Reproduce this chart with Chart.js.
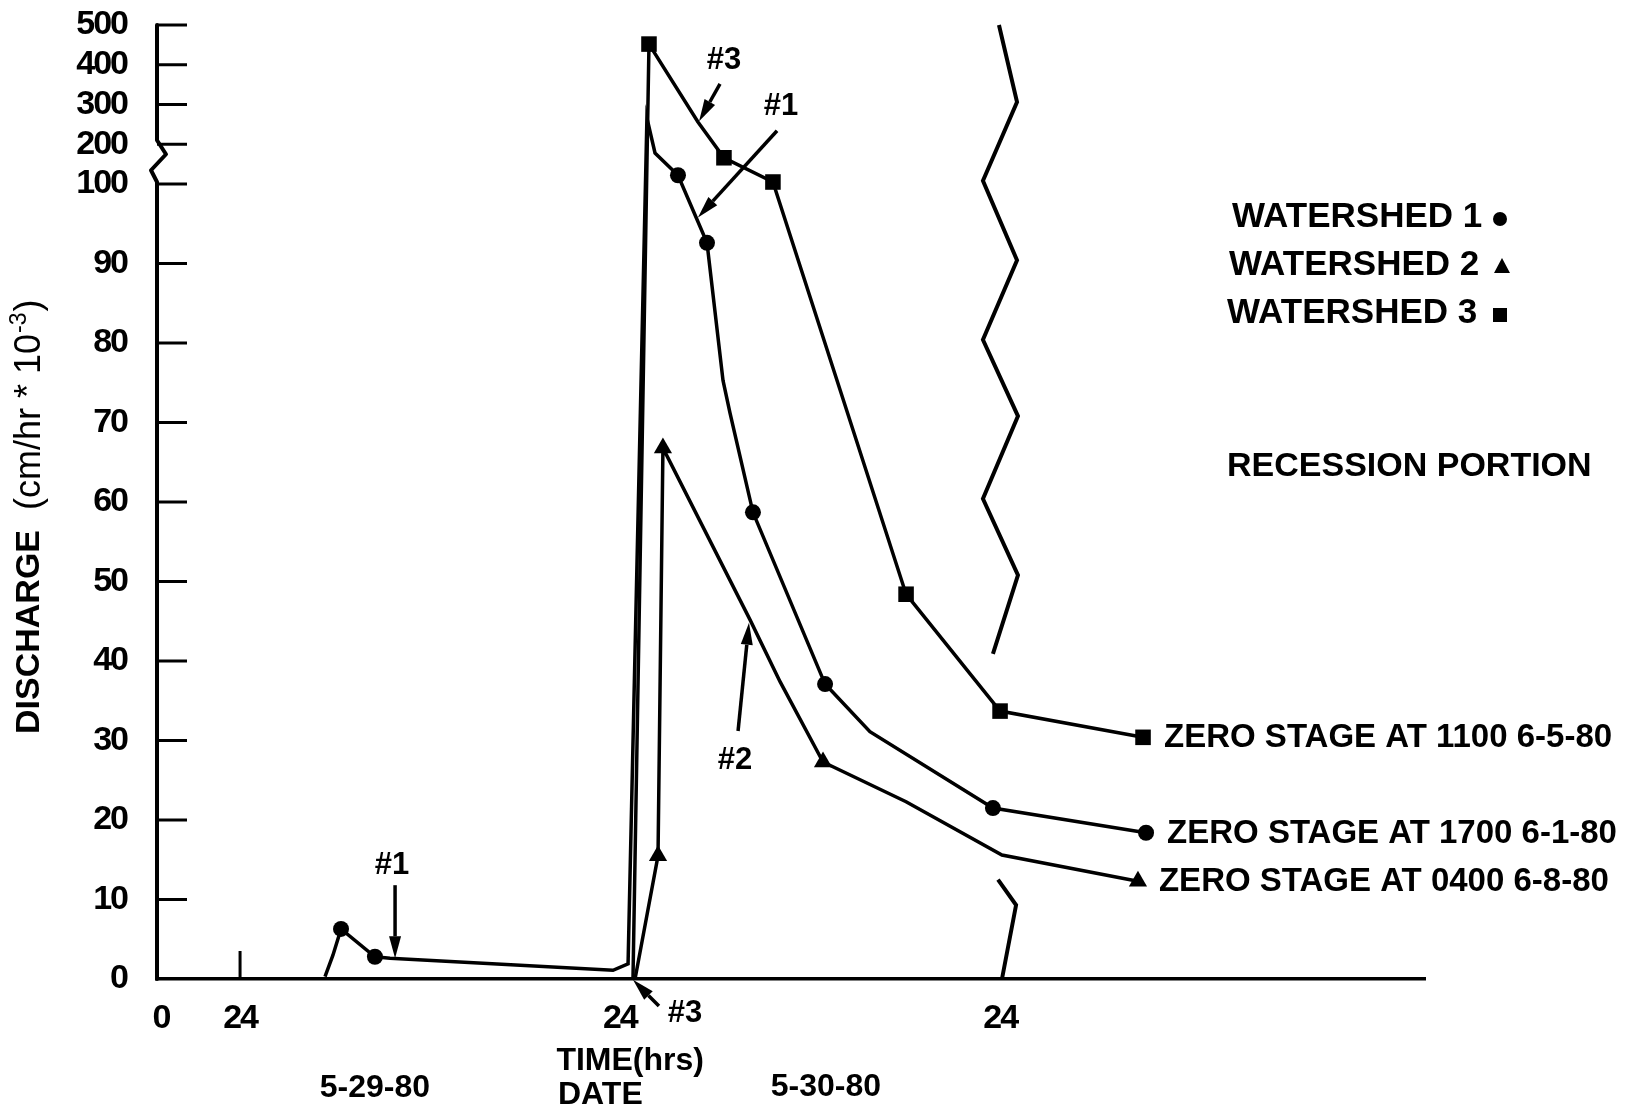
<!DOCTYPE html>
<html>
<head>
<meta charset="utf-8">
<title>Discharge - recession portion</title>
<script src="https://cdn.jsdelivr.net/npm/chart.js@4.4.1/dist/chart.umd.min.js"></script>
<style>
  html, body { margin: 0; padding: 0; background: #fff; }
  #wrap { width: 1633px; height: 1112px; position: relative; }
</style>
</head>
<body>
<div id="wrap"><canvas id="chart"></canvas></div>
<script>
// time in hours from the origin, discharge in cm/hr * 10^-3
const ws1X = [10.6, 11.1, 11.61, 13.75, 14.7, 28.77, 29.72, 30.91, 31.42, 32.87, 34.7, 35.71, 36.15, 37.6, 42.15, 44.98, 52.74, 62.4];
const ws1Y = [0.3, 3.0, 6.3, 2.8, 2.6, 1.1, 1.9, 266, 178, 122, 92.6, 75.3, 71.2, 58.7, 37.1, 31.1, 21.5, 18.4];
const ws1Mark = [0, 0, 1, 1, 0, 0, 0, 0, 0, 1, 1, 0, 0, 1, 1, 0, 1, 1];

const ws2X = [30.16, 31.61, 31.92, 37.41, 39.31, 42.02, 47.26, 53.31, 61.89];
const ws2Y = [0, 15.5, 66.8, 45.2, 37.4, 27.3, 22.3, 15.6, 12.3];
const ws2Mark = [0, 1, 1, 0, 0, 1, 0, 0, 1];

const ws3X = [30.03, 31.04, 34.13, 35.77, 38.86, 47.26, 53.19, 62.21];
const ws3Y = [0, 452, 256, 166, 105, 48.4, 33.7, 30.4];
const ws3Mark = [0, 1, 0, 1, 1, 1, 1, 1];

// break marks across the time axis
const breakTopX = [53.12, 54.26, 52.11, 54.26, 52.11, 54.32, 52.11, 54.32, 52.74];
const breakTopY = [500, 306, 108, 90.4, 80.4, 70.8, 60.4, 50.8, 40.9];
const breakLowX = [53.06, 54.2, 53.31];
const breakLowY = [12.5, 9.3, 0];

const yTickVals = [0, 10, 20, 30, 40, 50, 60, 70, 80, 90, 100, 200, 300, 400, 500];
const yTickText = ['0', '10', '20', '30', '40', '50', '60', '70', '80', '90', '100', '200', '300', '400', '500'];
const xTickVals = [0.25, 5.24, 29.2, 53.2];
const xTickText = ['0', '24', '24', '24'];
const xTickMark = [false, true, false, false];

const seriesNames = ['WATERSHED 1', 'WATERSHED 2', 'WATERSHED 3'];
const zeroStage = ['ZERO STAGE AT 1700 6-1-80', 'ZERO STAGE AT 0400 6-8-80', 'ZERO STAGE AT 1100 6-5-80'];

// callouts: label, label position, arrow tail, arrow head (hours, discharge)
const callouts = [
  ['#3', [35.77, 410], [35.52, 352], [34.20, 258]],
  ['#1', [39.37, 296], [39.12, 234], [34.13, 95.8]],
  ['#2', [36.47, 27.5], [36.66, 31.2], [37.35, 44.8]],
  ['#1', [14.83, 14.3], [15.02, 11.8], [15.02, 2.6]],
  ['#3', [33.31, -4.3], [31.67, -3.4], [30.03, -0.1]]
];

const dateLabels = [
  ['5-29-80', 13.75, 1088, 'center'],
  ['TIME(hrs)', 25.2, 1061, 'left'],
  ['DATE', 25.3, 1095, 'left'],
  ['5-30-80', 42.2, 1087, 'center']
];

// above 100 the axis is squeezed 20:1
const BREAK = 100, SQUEEZE = 20;
const fold = v => v <= BREAK ? v : BREAK + (v - BREAK) / SQUEEZE;

const FONT = "'Liberation Sans', Arial, Helvetica, sans-serif";
const INK = '#000';
const TICK_FONT = { family: FONT, size: 34, weight: 'bold' };

function series(xs, ys, marks, style, r) {
  return {
    data: xs.map((x, i) => ({ x, y: fold(ys[i]) })),
    borderColor: INK,
    backgroundColor: INK,
    borderWidth: 3.5,
    pointStyle: style,
    pointRadius: marks.map(m => m ? r : 0),
    pointBorderWidth: 0,
    tension: 0,
    clip: 6
  };
}
function breakLine(xs, ys) {
  return {
    data: xs.map((x, i) => ({ x, y: fold(ys[i]) })),
    borderColor: INK,
    borderWidth: 4,
    pointRadius: 0,
    tension: 0,
    clip: 6
  };
}

function arrow(ctx, x1, y1, x2, y2) {
  const a = Math.atan2(y2 - y1, x2 - x1);
  const len = 22, hw = 6;
  const bx = x2 - Math.cos(a) * len, by = y2 - Math.sin(a) * len;
  ctx.beginPath();
  ctx.moveTo(x1, y1);
  ctx.lineTo(bx, by);
  ctx.stroke();
  ctx.beginPath();
  ctx.moveTo(x2, y2);
  ctx.lineTo(bx - Math.sin(a) * hw, by + Math.cos(a) * hw);
  ctx.lineTo(bx + Math.sin(a) * hw, by - Math.cos(a) * hw);
  ctx.closePath();
  ctx.fill();
}

function marker(ctx, kind, x, y) {
  ctx.beginPath();
  if (kind === 'circle') ctx.arc(x, y, 7, 0, Math.PI * 2);
  else if (kind === 'triangle') { ctx.moveTo(x, y - 9); ctx.lineTo(x + 8, y + 6); ctx.lineTo(x - 8, y + 6); ctx.closePath(); }
  else ctx.rect(x - 7, y - 7, 14, 14);
  ctx.fill();
}

// tick numbers are tightly set, like a condensed face
const tightTicks = {
  id: 'tightTicks',
  beforeDraw(chart) { chart.ctx.letterSpacing = '-2px'; },
  beforeDatasetsDraw(chart) { chart.ctx.letterSpacing = '0px'; }
};

const extras = {
  id: 'extras',
  afterDraw(chart) {
    const { ctx, chartArea: ca, scales: { x, y } } = chart;
    const px = v => x.getPixelForValue(v);
    const py = v => y.getPixelForValue(fold(v));
    ctx.save();
    ctx.letterSpacing = '0px';
    ctx.strokeStyle = INK;
    ctx.fillStyle = INK;
    ctx.lineCap = 'round';
    ctx.lineJoin = 'round';

    // vertical axis with the break between 100 and 200
    const x0 = ca.left, y100 = py(100), y200 = py(200);
    ctx.lineWidth = 4;
    ctx.beginPath();
    ctx.moveTo(x0, ca.top);
    ctx.lineTo(x0, y200 - 4);
    ctx.lineTo(x0 + 9, y200 + 10);
    ctx.lineTo(x0 - 6, y200 + 26);
    ctx.lineTo(x0, y100 - 2);
    ctx.lineTo(x0, ca.bottom);
    ctx.stroke();

    // tick marks point into the plot
    ctx.lineWidth = 3;
    ctx.lineCap = 'butt';
    yTickVals.forEach(v => {
      if (v === 0) return;
      const yy = py(v);
      ctx.beginPath(); ctx.moveTo(x0, yy); ctx.lineTo(x0 + 30, yy); ctx.stroke();
    });
    xTickVals.forEach((v, i) => {
      if (!xTickMark[i]) return;
      ctx.beginPath(); ctx.moveTo(px(v), ca.bottom); ctx.lineTo(px(v), ca.bottom - 28); ctx.stroke();
    });

    // callout arrows
    ctx.lineWidth = 3.5;
    ctx.font = `bold 31px ${FONT}`;
    ctx.textAlign = 'center';
    ctx.textBaseline = 'middle';
    callouts.forEach(([txt, t, a, b]) => {
      ctx.fillText(txt, px(t[0]), py(t[1]));
      arrow(ctx, px(a[0]), py(a[1]), px(b[0]), py(b[1]));
    });

    // legend
    const kinds = ['circle', 'triangle', 'rect'];
    const legX = [1232, 1229, 1227], legY = [217, 265, 313], markX = [1500, 1502, 1500];
    ctx.font = `bold 35px ${FONT}`;
    ctx.textAlign = 'left';
    seriesNames.forEach((s, i) => {
      ctx.fillText(s, legX[i], legY[i]);
      marker(ctx, kinds[i], markX[i], legY[i] + 2);
    });
    ctx.font = `bold 34px ${FONT}`;
    ctx.fillText('RECESSION PORTION', 1227, 467);

    // end-of-record notes next to the last point of each series
    ctx.font = `bold 33px ${FONT}`;
    [[ws1X, ws1Y], [ws2X, ws2Y], [ws3X, ws3Y]].forEach(([xs, ys], i) => {
      const n = xs.length - 1;
      ctx.fillText(zeroStage[i], px(xs[n]) + 21, py(ys[n]) + 1);
    });

    // date row
    ctx.font = `bold 32px ${FONT}`;
    dateLabels.forEach(([txt, hx, yy, al]) => {
      ctx.textAlign = al;
      ctx.fillText(txt, px(hx), yy);
    });

    // y axis title, rotated
    ctx.translate(30, 734);
    ctx.rotate(-Math.PI / 2);
    ctx.textAlign = 'left';
    ctx.font = `bold 34px ${FONT}`;
    ctx.fillText('DISCHARGE', 0, 0);
    let cx = ctx.measureText('DISCHARGE').width + 20;
    ctx.font = `36px ${FONT}`;
    ctx.fillText('(cm/hr * 10', cx, 0);
    cx += ctx.measureText('(cm/hr * 10').width + 1;
    ctx.font = `23px ${FONT}`;
    ctx.fillText('-3', cx, -10);
    cx += ctx.measureText('-3').width + 1;
    ctx.font = `36px ${FONT}`;
    ctx.fillText(')', cx, 0);

    ctx.restore();
  }
};

new Chart(document.getElementById('chart'), {
  type: 'line',
  data: {
    datasets: [
      series(ws1X, ws1Y, ws1Mark, 'circle', 8),
      series(ws2X, ws2Y, ws2Mark, 'triangle', 10.5),
      series(ws3X, ws3Y, ws3Mark, 'rect', 11),
      breakLine(breakTopX, breakTopY),
      breakLine(breakLowX, breakLowY)
    ]
  },
  options: {
    responsive: true,
    maintainAspectRatio: false,
    animation: false,
    layout: { padding: { top: 25, right: 208, bottom: 0, left: 0 } },
    plugins: { legend: { display: false }, tooltip: { enabled: false } },
    scales: {
      x: {
        type: 'linear',
        min: 0,
        max: 80,
        grid: { display: false, drawTicks: false },
        border: { display: true, color: INK, width: 3.5 },
        afterFit: s => { s.height = 133; s.paddingLeft = 0; s.paddingRight = 0; },
        afterBuildTicks: s => { s.ticks = xTickVals.map(v => ({ value: v })); },
        ticks: {
          autoSkip: false,
          maxRotation: 0,
          padding: 19,
          color: INK,
          font: TICK_FONT,
          callback: (v, i) => xTickText[i]
        }
      },
      y: {
        type: 'linear',
        min: 0,
        max: fold(500),
        grid: { display: false, drawTicks: false },
        border: { display: false },
        afterFit: s => { s.width = 157; s.paddingTop = 0; s.paddingBottom = 0; },
        afterBuildTicks: s => { s.ticks = yTickVals.map(v => ({ value: fold(v) })); },
        ticks: {
          autoSkip: false,
          padding: 30,
          color: INK,
          font: TICK_FONT,
          callback: (v, i) => yTickText[i]
        }
      }
    }
  },
  plugins: [tightTicks, extras]
});
</script>
</body>
</html>
